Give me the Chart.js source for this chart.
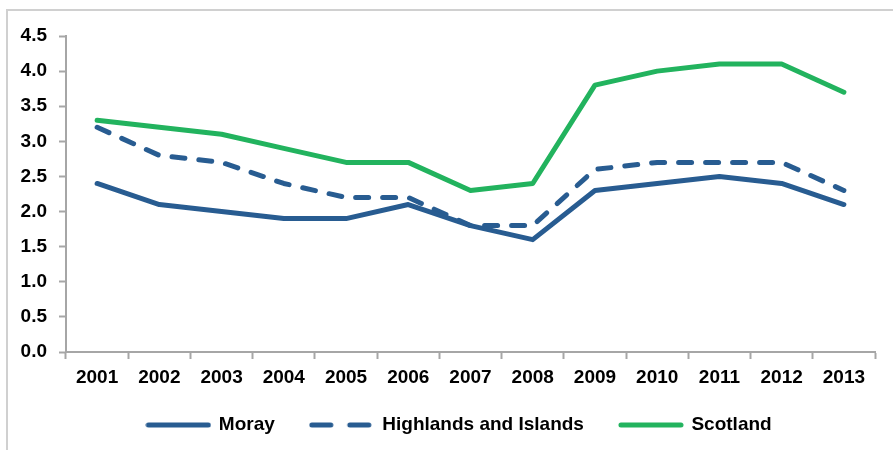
<!DOCTYPE html>
<html>
<head>
<meta charset="utf-8">
<script src="https://cdn.jsdelivr.net/npm/chart.js@4"></script>
<style>
  html, body { margin: 0; padding: 0; background: #fff; }
  #wrap { position: relative; width: 893px; height: 450px; }
  #frame { position: absolute; left: 6px; top: 9px; right: 0; bottom: 0;
           border-top: 2px solid #d0d0d0; border-left: 2px solid #d0d0d0; }
  #chart { position: absolute; left: 0; top: 0; }
</style>
</head>
<body>
<div id="wrap">
  <div id="frame"></div>
  <canvas id="chart" width="893" height="450"></canvas>
</div>
<script>
// values
var years = ["2001","2002","2003","2004","2005","2006","2007","2008","2009","2010","2011","2012","2013"];
var moray = [2.4, 2.1, 2.0, 1.9, 1.9, 2.1, 1.8, 1.6, 2.3, 2.4, 2.5, 2.4, 2.1];
var highlands = [3.2, 2.8, 2.7, 2.4, 2.2, 2.2, 1.8, 1.8, 2.6, 2.7, 2.7, 2.7, 2.3];
var scotland = [3.3, 3.2, 3.1, 2.9, 2.7, 2.7, 2.3, 2.4, 3.8, 4.0, 4.1, 4.1, 3.7];

var blue = "#285c91";
var green = "#22b35e";
var axisGrey = "#a6a6a6";
var font = "'Liberation Sans', Arial, sans-serif";

// little line sample for the legend (the built-in point legend ignores dashes)
function legendLine(color, dash) {
    var c = document.createElement("canvas");
    c.width = 66;
    c.height = 8;
    var g = c.getContext("2d");
    g.strokeStyle = color;
    g.lineWidth = 5;
    g.lineCap = "round";
    g.setLineDash(dash);
    g.beginPath();
    g.moveTo(3, 4);
    g.lineTo(63, 4);
    g.stroke();
    return c;
}

function lineSet(label, data, color, dash, legendDash) {
    return {
        label: label,
        data: data,
        borderColor: color,
        backgroundColor: color,
        borderWidth: 5,
        borderDash: dash,
        borderCapStyle: "round",
        borderJoinStyle: "round",
        pointRadius: 0,
        pointHoverRadius: 0,
        pointStyle: legendLine(color, legendDash),
        tension: 0,
        fill: false
    };
}

// nudge the legend a bit, like the original
var legendShift = {
    id: "legendShift",
    afterLayout: function (chart) {
        chart.legend.left += 22;
        chart.legend.right += 22;
        chart.legend.top -= 7.5;
        chart.legend.bottom -= 7.5;
    }
};

new Chart(document.getElementById("chart"), {
    type: "line",
    data: {
        labels: years,
        datasets: [
            lineSet("Moray", moray, blue, [], []),
            lineSet("Highlands and Islands", highlands, blue, [13, 14], [19, 19]),
            lineSet("Scotland", scotland, green, [], [])
        ]
    },
    plugins: [legendShift],
    options: {
        responsive: false,
        animation: false,
        layout: { padding: { left: 0, right: 18, top: 36, bottom: 0 } },
        plugins: {
            tooltip: { enabled: false },
            legend: {
                position: "bottom",
                maxHeight: 63,
                labels: {
                    usePointStyle: true,
                    pointStyleWidth: 62,
                    padding: 36,
                    color: "#000",
                    font: { family: font, size: 19, weight: "bold" }
                }
            }
        },
        scales: {
            x: {
                offset: true,
                grid: {
                    offset: true,
                    drawOnChartArea: false,
                    drawTicks: true,
                    tickLength: 7,
                    tickWidth: 2,
                    tickColor: axisGrey
                },
                border: { color: axisGrey, width: 2 },
                ticks: {
                    padding: 7,
                    maxRotation: 0,
                    autoSkip: false,
                    color: "#000",
                    font: { family: font, size: 19, weight: "bold" }
                },
                afterFit: function (scale) { scale.height = 35; }
            },
            y: {
                min: 0,
                max: 4.5,
                grid: {
                    drawOnChartArea: false,
                    tickLength: 7,
                    tickWidth: 2,
                    tickColor: axisGrey
                },
                border: { color: axisGrey, width: 2 },
                ticks: {
                    stepSize: 0.5,
                    padding: 12,
                    color: "#000",
                    font: { family: font, size: 19, weight: "bold" },
                    callback: function (v) { return Number(v).toFixed(1); }
                },
                afterFit: function (scale) { scale.width = 66; }
            }
        }
    }
});
</script>
</body>
</html>
